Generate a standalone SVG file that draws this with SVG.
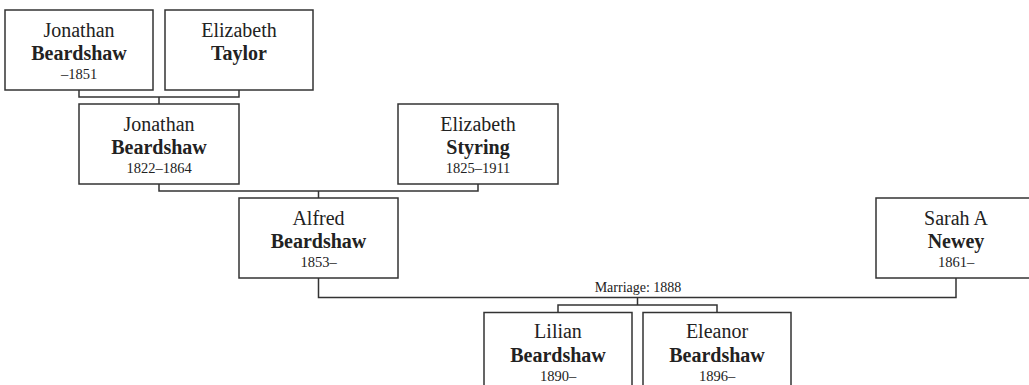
<svg xmlns="http://www.w3.org/2000/svg" width="1029" height="385" viewBox="0 0 1029 385">
<style>
.box{fill:#fff;stroke:#333;stroke-width:1.5}
.conn path{fill:none;stroke:#333;stroke-width:1.5}
text{font-family:"Liberation Serif","Times New Roman",serif;fill:#222;text-anchor:middle}
.g{font-size:20px}
.s{font-size:20px;font-weight:bold}
.d{font-size:14.5px}
.m{font-size:14px}
</style>
<rect width="1029" height="385" fill="#fff"/>
<g id="connectors" class="conn">
<path d="M79 90V97H239V90M159 97V104"/>
<path d="M159 184V191H478V184M318.5 191V198"/>
<path d="M318.5 278V297.5H956V278M637.5 297.5V305M558 312.5V305H717V312.5"/>
<text class="m" x="638" y="291.5">Marriage: 1888</text>
</g>
<g id="n1"><rect class="box" x="5" y="10" width="148" height="80"/><text class="g" x="79" y="36.5">Jonathan</text><text class="s" x="79" y="60">Beardshaw</text><text class="d" x="79" y="79">–1851</text></g>
<g id="n2"><rect class="box" x="165" y="10" width="148" height="80"/><text class="g" x="239" y="36.5">Elizabeth</text><text class="s" x="239" y="60">Taylor</text></g>
<g id="n3"><rect class="box" x="79" y="104" width="160" height="80"/><text class="g" x="159" y="130.5">Jonathan</text><text class="s" x="159" y="154">Beardshaw</text><text class="d" x="159" y="173">1822–1864</text></g>
<g id="n4"><rect class="box" x="398" y="104" width="160" height="80"/><text class="g" x="478" y="130.5">Elizabeth</text><text class="s" x="478" y="154">Styring</text><text class="d" x="478" y="173">1825–1911</text></g>
<g id="n5"><rect class="box" x="239" y="198" width="159" height="80"/><text class="g" x="318.5" y="224.5">Alfred</text><text class="s" x="318.5" y="248">Beardshaw</text><text class="d" x="318.5" y="267">1853–</text></g>
<g id="n6"><rect class="box" x="876" y="198" width="160" height="80"/><text class="g" x="956" y="224.5">Sarah A</text><text class="s" x="956" y="248">Newey</text><text class="d" x="956" y="267">1861–</text></g>
<g id="n7"><rect class="box" x="484" y="312.5" width="148" height="80"/><text class="g" x="558" y="338">Lilian</text><text class="s" x="558" y="361.5">Beardshaw</text><text class="d" x="558" y="380.5">1890–</text></g>
<g id="n8"><rect class="box" x="643" y="312.5" width="148" height="80"/><text class="g" x="717" y="338">Eleanor</text><text class="s" x="717" y="361.5">Beardshaw</text><text class="d" x="717" y="380.5">1896–</text></g>
</svg>
